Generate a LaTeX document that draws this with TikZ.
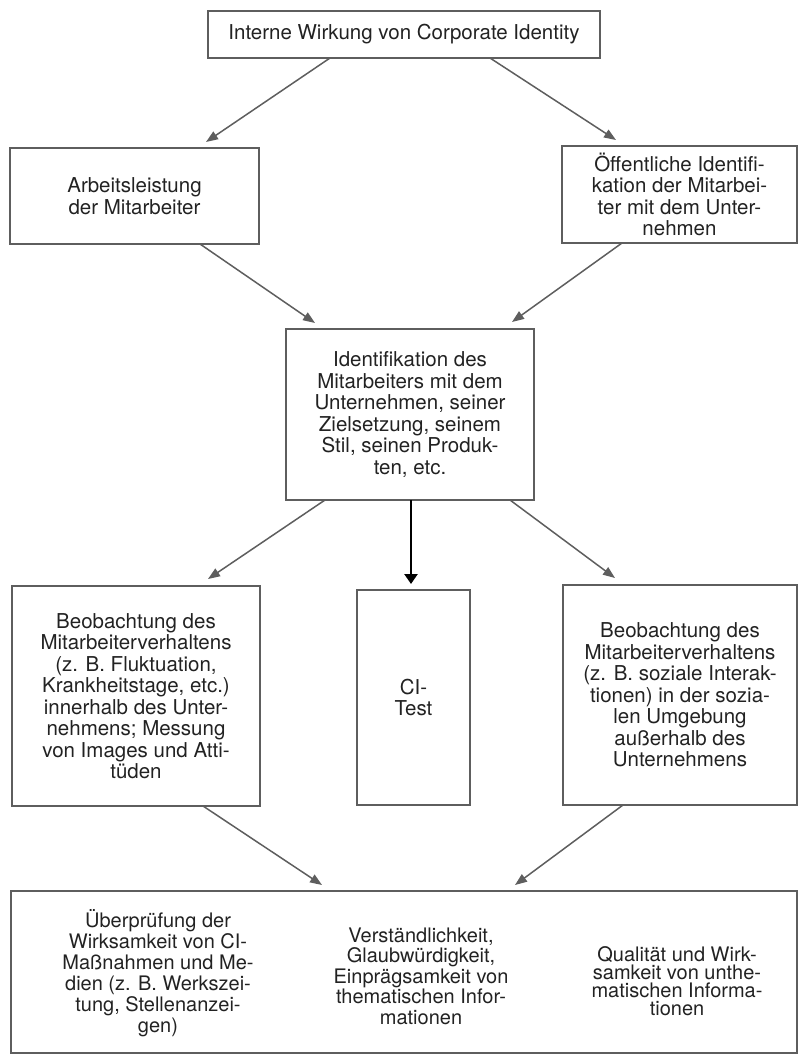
\documentclass[tikz,border=0pt]{standalone}
\usepackage{fontspec}
\setmainfont{TeX Gyre Heros}
\usetikzlibrary{arrows.meta}
\definecolor{linegray}{HTML}{5E5E5E}
\definecolor{inkgray}{HTML}{222222}
\begin{document}
\begin{tikzpicture}[x=1pt,y=-1pt,
  box/.style={draw=linegray, line width=2pt, inner sep=0pt, outer sep=0pt,
    align=center, text=inkgray, font=\fontsize{20.5}{21.5}\selectfont},
  txt/.style={inner sep=0pt, align=center, text=inkgray},
  arr/.style={draw=linegray, line width=1.5pt, -{Triangle[length=12pt,width=9pt]}},
  strongarr/.style={draw=black, line width=2.4pt, -{Triangle[length=10pt,width=13pt]}}]
\useasboundingbox (0,0) rectangle (799,1058);

% boxes
\node[box, minimum width=392pt, minimum height=47pt] (top) at (404,34.5)
  {Interne Wirkung von Corporate Identity};
\node[box, minimum width=249pt, minimum height=96pt] (perf) at (134.5,196)
  {Arbeitsleistung\\der Mitarbeiter};
\node[box, minimum width=235pt, minimum height=97pt] (public) at (679.5,194.5)
  {Öffentliche Identifi-\\kation der Mitarbei-\\ter mit dem Unter-\\nehmen};
\node[box, minimum width=248pt, minimum height=171pt] (ident) at (410,414.5)
  {Identifikation des\\Mitarbeiters mit dem\\Unternehmen, seiner\\Zielsetzung, seinem\\Stil, seinen Produk-\\ten, etc.};
\node[box, minimum width=248pt, minimum height=220pt] (inside) at (136,696)
  {Beobachtung des\\Mitarbeiterverhaltens\\(z. B. Fluktuation,\\Krankheitstage, etc.)\\innerhalb des Unter-\\nehmens; Messung\\von Images und Atti-\\tüden};
\node[box, minimum width=113pt, minimum height=215pt] (citest) at (413.5,697.5)
  {CI-\\Test};
\node[box, minimum width=234pt, minimum height=220pt] (outside) at (680,695)
  {Beobachtung des\\Mitarbeiterverhaltens\\(z. B. soziale Interak-\\tionen) in der sozia-\\len Umgebung\\außerhalb des\\Unternehmens};
\node[box, minimum width=786pt, minimum height=162pt] (result) at (404,972) {};

% texts inside the bottom box
\node[txt, font=\fontsize{20}{21}\selectfont] (resA) at (158,973)
  {Überprüfung der\\Wirksamkeit von CI-\\Maßnahmen und Me-\\dien (z. B. Werkszei-\\tung, Stellenanzei-\\gen)};
\node[txt, font=\fontsize{20}{20.5}\selectfont] (resB) at (421,976)
  {Verständlichkeit,\\Glaubwürdigkeit,\\Einprägsamkeit von\\thematischen Infor-\\mationen};
\node[txt, font=\fontsize{20}{18}\selectfont] (resC) at (677,981)
  {Qualität und Wirk-\\samkeit von unthe-\\matischen Informa-\\tionen};

% connectors
\draw[arr] ([xshift=-74pt]top.south) -- ([xshift=71.5pt,yshift=6pt]perf.north);
\draw[arr] ([xshift=86pt]top.south) -- ([xshift=-63.5pt,yshift=6pt]public.north);
\draw[arr] ([xshift=65.5pt]perf.south) -- ([xshift=-95pt,yshift=6pt]ident.north);
\draw[arr] ([xshift=-57.5pt]public.south) -- ([xshift=102pt,yshift=7pt]ident.north);
\draw[arr] ([xshift=-85pt]ident.south) -- ([xshift=72pt,yshift=7pt]inside.north);
\draw[strongarr] ([xshift=1pt]ident.south) -- ([xshift=1pt]ident.south |- 0,584);
\draw[arr] ([xshift=100pt]ident.south) -- ([xshift=-65pt,yshift=7pt]outside.north);
\draw[arr] ([xshift=67pt]inside.south) -- ([xshift=-82pt,yshift=6pt]result.north);
\draw[arr] ([xshift=-57pt]outside.south) -- ([xshift=111pt,yshift=6pt]result.north);
\end{tikzpicture}
\end{document}
